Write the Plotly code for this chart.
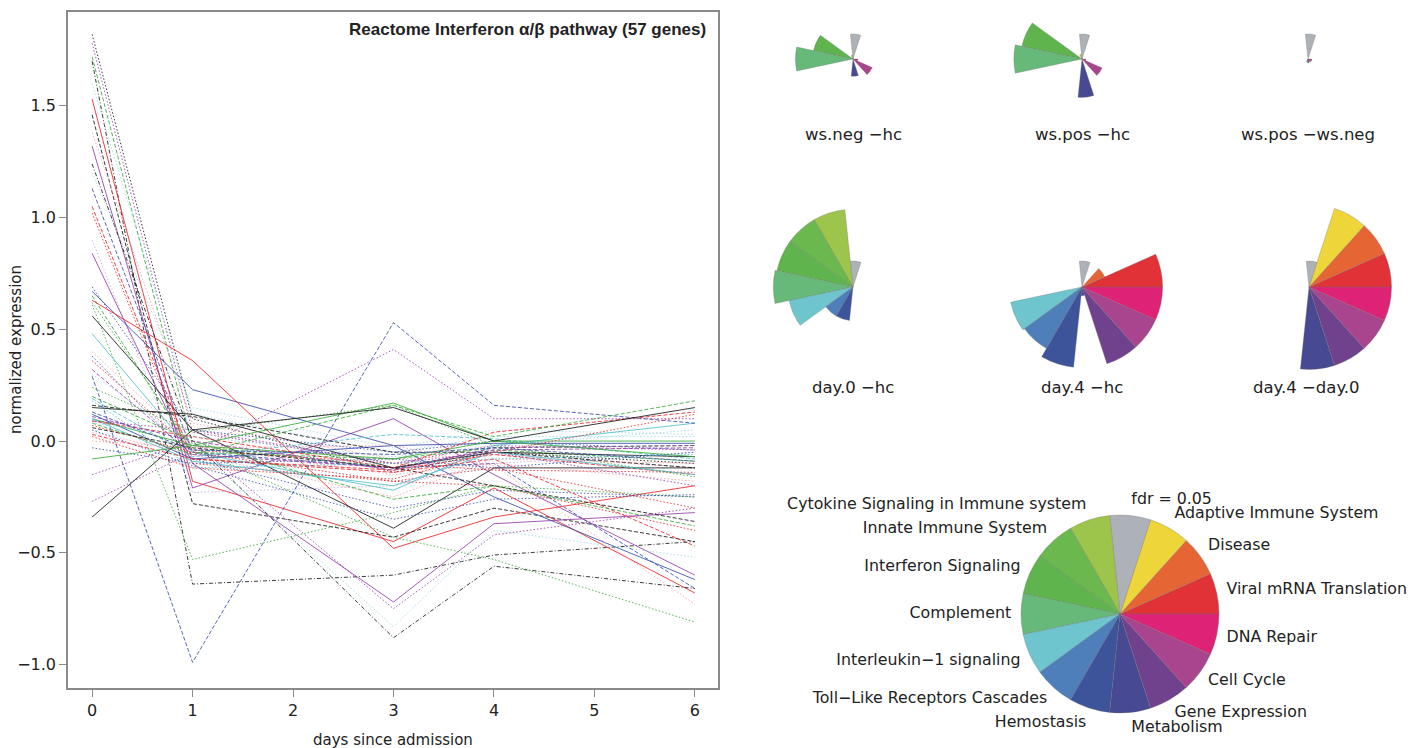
import math
import plotly.graph_objects as go

W, H = 1422, 748
PAD = 14  # extra paper above the visible page (scrolled away with CSS) so the top roses are not clipped
HF = H + PAD

# ---------------- line chart data ----------------
days = [0, 1, 3, 4, 6]
gene_values = [
    [1.82, 0.10, -0.14, -0.05, -0.10],
    [1.78, 0.04, -0.10, -0.02, -0.04],
    [1.72, -0.02, -0.12, -0.04, -0.09],
    [1.70, -0.64, -0.60, -0.51, -0.45],
    [1.60, 0.12, -0.05, 0.02, 0.02],
    [1.53, -0.18, -0.45, -0.21, -0.68],
    [1.46, -0.28, -0.43, -0.30, -0.45],
    [1.38, 0.08, -0.08, -0.06, -0.12],
    [1.32, -0.21, 0.10, -0.15, -0.60],
    [1.24, 0.00, -0.88, -0.56, -0.66],
    [1.20, 0.15, -0.03, 0.05, 0.03],
    [1.13, -0.05, -0.12, -0.10, -0.66],
    [1.05, -0.08, -0.13, -0.06, -0.15],
    [1.02, -0.10, -0.18, -0.12, -0.30],
    [0.90, -0.23, -0.20, -0.10, -0.05],
    [0.84, -0.10, -0.72, -0.37, -0.32],
    [0.69, 0.05, -0.05, 0.00, -0.04],
    [0.67, 0.23, -0.02, -0.25, -0.62],
    [0.65, -0.05, -0.08, -0.03, -0.02],
    [0.63, 0.36, -0.48, -0.34, -0.20],
    [0.61, -0.53, -0.32, -0.20, -0.25],
    [0.56, 0.05, -0.39, -0.12, -0.12],
    [0.48, -0.05, -0.22, -0.02, 0.08],
    [0.40, -0.02, -0.15, -0.10, -0.18],
    [0.38, -0.08, -0.30, -0.22, -0.25],
    [0.36, -0.04, -0.10, -0.13, -0.14],
    [0.32, -0.06, -0.12, -0.04, -0.03],
    [0.29, -0.99, 0.53, 0.16, 0.08],
    [0.24, 0.04, 0.16, -0.02, -0.16],
    [0.19, -0.07, 0.03, 0.01, -0.08],
    [0.16, 0.11, -0.05, -0.05, -0.12],
    [0.15, 0.12, -0.12, -0.05, -0.07],
    [0.12, -0.08, -0.02, -0.01, -0.01],
    [0.10, -0.02, -0.08, 0.00, 0.00],
    [0.10, -0.09, -0.20, -0.05, -0.15],
    [0.09, 0.02, -0.12, 0.04, 0.13],
    [0.09, 0.05, -0.10, -0.05, -0.20],
    [0.08, -0.06, 0.16, 0.02, 0.18],
    [0.08, 0.02, -0.07, -0.02, 0.05],
    [0.07, -0.05, -0.18, -0.20, -0.40],
    [0.06, -0.03, -0.12, -0.20, -0.36],
    [0.05, -0.11, -0.35, -0.26, -0.24],
    [0.04, -0.06, -0.25, -0.08, -0.10],
    [0.03, -0.08, -0.14, -0.08, -0.47],
    [0.00, -0.03, -0.02, -0.11, -0.73],
    [-0.03, -0.10, -0.08, -0.12, -0.05],
    [-0.08, -0.02, 0.17, 0.00, -0.07],
    [-0.15, 0.00, -0.75, -0.42, -0.30],
    [-0.27, -0.05, 0.41, 0.10, 0.10],
    [-0.34, 0.05, 0.15, 0.00, 0.15],
    [0.62, -0.03, -0.43, -0.53, -0.81],
    [0.30, -0.02, -0.83, -0.40, -0.52],
    [0.20, 0.00, -0.26, -0.20, -0.38],
    [0.18, -0.12, -0.10, -0.08, -0.06],
    [0.11, 0.00, -0.13, -0.03, -0.02],
    [0.02, -0.12, -0.17, -0.05, 0.12],
    [0.13, -0.04, -0.06, -0.03, -0.09],
]
gene_colors = ["K", "P", "G", "K", "LC", "R", "K", "LP", "P", "K",
               "LC", "B", "R", "R", "LV", "P", "B", "B", "G", "R",
               "G", "K", "C", "LP", "B", "R", "P", "B", "G", "C",
               "K", "K", "B", "G", "C", "R", "P", "G", "LC", "R",
               "K", "B", "LP", "R", "LP", "B", "G", "P", "P", "K",
               "G", "LC", "G", "C", "P", "R", "B"]
gene_dash = ["dot", "dot", "dash", "dashdot", "dot", "solid", "dash", "dot", "solid", "dashdot",
             "dot", "dash", "dash", "dot", "dot", "solid", "dot", "solid", "dash", "solid",
             "dot", "solid", "solid", "dot", "dot", "dot", "dash", "dash", "dot", "dash",
             "dash", "solid", "solid", "solid", "solid", "dash", "dot", "dash", "dot", "dot",
             "dash", "dot", "dot", "dash", "dot", "dot", "solid", "dot", "dot", "solid",
             "dot", "dot", "dash", "dot", "dash", "dot", "dash"]

palette = {
    "K": "rgba(25,25,25,0.85)",
    "R": "rgba(235,35,40,0.85)",
    "G": "rgba(55,170,55,0.85)",
    "B": "rgba(55,75,170,0.85)",
    "C": "rgba(80,190,205,0.85)",
    "P": "rgba(150,60,170,0.85)",
    "LP": "rgba(240,140,155,0.7)",
    "LC": "rgba(140,210,225,0.7)",
    "LV": "rgba(175,155,220,0.7)",
}
dash_map = {"solid": "solid", "dash": "4px,2px", "dot": "1.5px,2px", "dashdot": "4px,2px,1px,2px"}

# ---------------- rose data ----------------
categories = ["Viral mRNA Translation", "Disease", "Adaptive Immune System", "fdr = 0.05",
              "Cytokine Signaling in Immune system", "Innate Immune System", "Interferon Signaling",
              "Complement", "Interleukin\u22121 signaling", "Toll\u2212Like Receptors Cascades",
              "Hemostasis", "Metabolism", "Gene Expression", "Cell Cycle", "DNA Repair"]
cat_colors = ["#E03237", "#E66535", "#EDD53A", "#ADB1B8", "#9DC54B", "#6BB84F", "#5FB44D",
              "#67B979", "#6EC5CE", "#4F7FBA", "#3D549A", "#474A93", "#70428E", "#A9458F", "#DE2377"]

comparisons = ["ws.neg \u2212hc", "ws.pos \u2212hc", "ws.pos \u2212ws.neg",
               "day.0 \u2212hc", "day.4 \u2212hc", "day.4 \u2212day.0"]
rose_values = [
    [0, 0, 0, 1.3, 0.2, 0, 2.1, 3.0, 0, 0, 0, 0.9, 0, 1.1, 0.25],
    [0, 0, 0, 1.3, 0.25, 0, 3.2, 3.55, 0, 0, 0, 2.0, 0, 1.15, 0.2],
    [0, 0, 0, 1.3, 0, 0, 0, 0, 0, 0, 0.15, 0.2, 0.15, 0.2, 0.2],
    [0, 0, 0, 1.35, 4.05, 4.05, 4.05, 4.15, 3.4, 1.75, 1.75, 0, 0, 0, 0],
    [4.2, 1.3, 0, 1.35, 0, 0, 0, 0, 3.8, 3.7, 4.2, 0.45, 4.2, 4.2, 4.2],
    [4.3, 4.3, 4.3, 1.35, 0, 0, 0, 0, 0, 0, 0, 4.3, 4.3, 4.3, 4.3],
]
PX_PER_UNIT = 19.2

theta_centers = [12 + 24 * i for i in range(15)]

fig = go.Figure()

for vals, col, dsh in zip(gene_values, gene_colors, gene_dash):
    fig.add_trace(go.Scatter(x=days, y=vals, mode="lines",
                             line=dict(color=palette[col], width=1, dash=dash_map[dsh]),
                             showlegend=False, hoverinfo="skip"))


def py(v):
    """visible-page y pixel -> paper fraction"""
    return 1 - (v + PAD) / HF


def dom(cx, cy, h):
    return dict(x=[(cx - h) / W, (cx + h) / W], y=[py(cy + h), py(cy - h)])


# rose centres (visible px) and half sizes
centres = [(853, 59, 72), (1082, 59, 72), (1308, 59, 72),
           (853, 287, 95), (1082, 287, 95), (1309, 287, 95)]

polar_common = dict(bgcolor="rgba(0,0,0,0)", bargap=0,
                    angularaxis=dict(visible=False, direction="counterclockwise", rotation=0))
layout_polars = {}
for i, (vals, (cx, cy, h)) in enumerate(zip(rose_values, centres)):
    name = "polar" if i == 0 else f"polar{i + 1}"
    fig.add_trace(go.Barpolar(r=vals, theta=theta_centers, width=[24] * 15,
                              marker=dict(color=cat_colors, line=dict(color="rgba(110,110,110,0.6)", width=0.5)),
                              subplot=name, showlegend=False, hoverinfo="skip"))
    layout_polars[name] = dict(domain=dom(cx, cy, h),
                               radialaxis=dict(visible=False, range=[0, h / PX_PER_UNIT]),
                               **polar_common)

# legend pie (labels sit just outside the rim, slightly stretched vertically as in the original)
PIE_R_PX = 99
PIE_RANGE = 1.2
LAB_X, LAB_Y = 1.1, 1.16
pie_name = "polar7"
fig.add_trace(go.Barpolar(r=[1] * 15, theta=theta_centers, width=[24] * 15,
                          marker=dict(color=cat_colors, line=dict(color="rgba(110,110,110,0.6)", width=0.5)),
                          subplot=pie_name, showlegend=False, hoverinfo="skip"))
lab_r, lab_t, positions = [], [], []
for t in theta_centers:
    cx_, sy_ = LAB_X * math.cos(math.radians(t)), LAB_Y * math.sin(math.radians(t))
    lab_r.append(math.hypot(cx_, sy_))
    lab_t.append(math.degrees(math.atan2(sy_, cx_)))
    positions.append("middle right" if cx_ > 0 else "middle left")
fig.add_trace(go.Scatterpolar(r=lab_r, theta=lab_t, mode="text", text=categories,
                              textposition=positions, cliponaxis=False,
                              textfont=dict(family="DejaVu Sans", size=15.8, color="#222222"),
                              subplot=pie_name, showlegend=False, hoverinfo="skip"))
layout_polars[pie_name] = dict(domain=dom(1120, 614, PIE_R_PX * PIE_RANGE),
                               radialaxis=dict(visible=False, range=[0, PIE_RANGE]), **polar_common)

annotations = [dict(text="<b>Reactome Interferon \u03b1/\u03b2 pathway (57 genes)</b>",
                    x=708 / W, y=py(30), xref="paper", yref="paper", xanchor="right", yanchor="middle",
                    showarrow=False, font=dict(family="Liberation Sans, Arial", size=17, color="#222222"))]
label_pos = [(853, 135), (1082, 135), (1308, 135), (853, 387), (1082, 387), (1306, 387)]
for txt, (lx, ly) in zip(comparisons, label_pos):
    annotations.append(dict(text=txt, x=lx / W, y=py(ly), xref="paper", yref="paper",
                            xanchor="center", yanchor="middle", showarrow=False,
                            font=dict(family="DejaVu Sans", size=16.5, color="#222222")))
annotations.append(dict(text="days since admission", x=393 / W, y=py(740), xref="paper", yref="paper",
                        xanchor="center", yanchor="middle", showarrow=False,
                        font=dict(family="DejaVu Sans", size=15, color="#222222")))
annotations.append(dict(text="normalized expression", x=16 / W, y=py(350), xref="paper", yref="paper",
                        xanchor="center", yanchor="middle", showarrow=False, textangle=-90,
                        font=dict(family="DejaVu Sans", size=15, color="#222222")))

fig.update_layout(
    width=W, height=HF, margin=dict(l=0, r=0, t=0, b=0),
    paper_bgcolor="white", plot_bgcolor="white",
    showlegend=False,
    xaxis=dict(domain=[68 / W, 718 / W], range=[-0.24, 6.23], tickvals=[0, 1, 2, 3, 4, 5, 6],
               showgrid=False, zeroline=False, showline=True, mirror=True, linecolor="#8a8a8a", linewidth=1.5,
               ticks="outside", ticklen=7, tickcolor="#8a8a8a",
               tickfont=dict(family="DejaVu Sans", size=16, color="#222222")),
    yaxis=dict(domain=[py(688), py(12)], range=[-1.105, 1.92],
               tickvals=[-1.0, -0.5, 0.0, 0.5, 1.0, 1.5], tickformat=".1f",
               showgrid=False, zeroline=False, showline=True, mirror=True, linecolor="#8a8a8a", linewidth=1.5,
               ticks="outside", ticklen=7, tickcolor="#8a8a8a",
               tickfont=dict(family="DejaVu Sans", size=16, color="#222222")),
    annotations=annotations,
    **layout_polars,
)

post = ("document.body.style.margin='0';document.body.style.overflow='hidden';"
        "var d=document.querySelector('.plotly-graph-div');if(d){d.style.marginTop='-%dpx';}" % PAD)
fig.write_html("out.html", config={"displayModeBar": False}, post_script=post)
